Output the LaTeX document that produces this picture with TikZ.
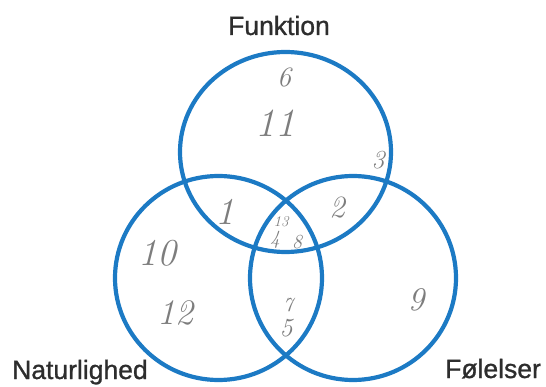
\documentclass[tikz,border=0pt]{standalone}
\usepackage{fontspec}
\usetikzlibrary{shapes.geometric}
\newfontfamily\labelfont[FakeBold=1]{Liberation Sans}
\definecolor{vennblue}{RGB}{28,122,196}
\definecolor{pencil}{RGB}{125,125,125}
\definecolor{labelgray}{RGB}{45,45,45}
\begin{document}
\begin{tikzpicture}[x=1pt,y=-1pt,
  venn/.style={ellipse,draw=vennblue,line width=4.2pt,inner sep=0pt},
  setlabel/.style={font=\labelfont\fontsize{26.5}{26.5}\selectfont,text=labelgray,inner sep=0pt},
  hand/.style={font=\itshape\fontsize{#1}{#1}\selectfont,text=pencil,inner sep=0pt}]
\useasboundingbox (0,0) rectangle (546,387);
\node[venn,minimum width=211pt,minimum height=200pt] (top) at (285.5,152) {};
\node[venn,minimum width=207pt,minimum height=204pt] (left) at (218.5,278) {};
\node[venn,minimum width=206pt,minimum height=204pt] (right) at (353,278) {};
\node[setlabel,anchor=base] (lf) at (279,35) {Funktion};
\node[setlabel,anchor=base west] (ln) at (12,379) {Naturlighed};
\node[setlabel,anchor=base west] (lo) at (445,378) {Følelser};
\node[hand=28] (n6) at (284,77) {6};
\node[hand=40] (n11) at (275,123) {11};
\node[hand=26] (n3) at (378,160) {3};
\node[hand=38] (n1) at (225,212) {1};
\node[hand=31] (n2) at (337,208) {2};
\node[hand=15] (n13) at (281,222) {13};
\node[hand=20] (n4) at (275,240) {4};
\node[hand=20] (n8) at (297,242) {8};
\node[hand=38] (n10) at (157,253) {10};
\node[hand=36] (n12) at (175,313) {12};
\node[hand=20] (n7) at (288,305) {7};
\node[hand=26] (n5) at (286,328) {5};
\node[hand=33] (n9) at (416,300) {9};
\end{tikzpicture}
\end{document}
